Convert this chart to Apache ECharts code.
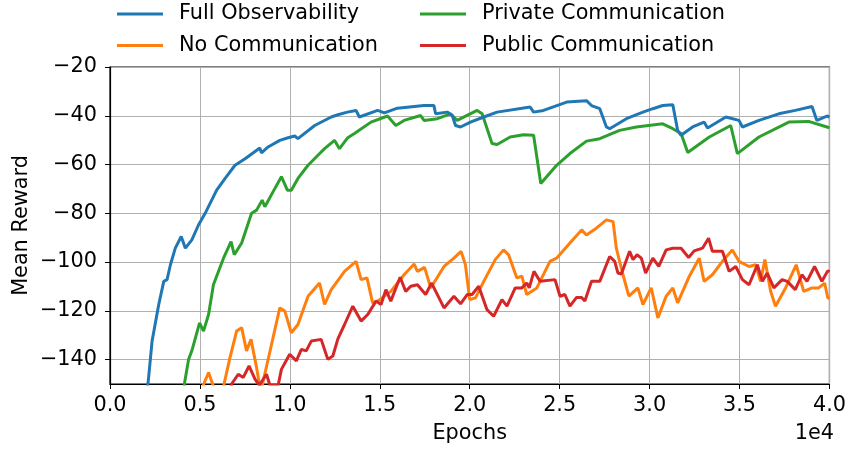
<!DOCTYPE html>
<html><head><meta charset="utf-8">
<script src="https://cdn.jsdelivr.net/npm/echarts@6/dist/echarts.min.js"></script>
<style>html,body{margin:0;padding:0;background:#fff}#c{width:849px;height:449px}</style>
</head><body><div id="c"></div>
<script>
const seriesNames = ["Full Observability","No Communication","Private Communication","Public Communication"];
const seriesColors = ["#1f77b4","#ff7f0e","#2ca02c","#d62728"];
const xTicks = [0,5000,10000,15000,20000,25000,30000,35000,40000];
const yTicks = [-140,-120,-100,-80,-60,-40,-20];

const fullX = [2050,2120,2340,2710,2990,3170,3360,3630,3960,4190,4550,4920,5290,5930,6400,6950,7510,8330,8420,8790,9440,9900,10270,10450,11380,12300,12670,13200,13680,13860,14880,15250,15980,17460,18010,18100,18750,19030,19210,19490,20040,20780,21520,23360,23550,24100,25390,26490,26770,27230,27600,27780,28710,29630,30180,30730,31290,31560,31750,32390,33030,33220,34240,34970,35160,36080,37180,38100,39030,39300,39860,40000];
const fullY = [-153,-149.4,-132.4,-117.4,-107.9,-107.2,-101.1,-94.3,-89.5,-94.3,-90.9,-84.8,-80,-70.5,-65.7,-60.3,-57.6,-53.2,-55.2,-52.8,-50.1,-49,-48.3,-49.4,-44,-40.5,-39.6,-38.5,-37.8,-40.5,-37.8,-38.8,-36.9,-35.8,-35.8,-39.2,-38.5,-39.9,-44,-44.6,-42.6,-40.5,-38.5,-36.4,-38.5,-37.8,-34.4,-33.8,-35.8,-37.1,-44.6,-45.3,-41.2,-38.5,-37.1,-35.8,-35.5,-46,-48,-44.6,-42.6,-45,-40.5,-41.9,-44.6,-41.9,-39.2,-37.8,-36.2,-41.9,-40.1,-40.5];

const noX = [5100,5480,5800,6300,6360,6670,7040,7320,7590,7840,8150,8330,8450,8980,9440,9720,10080,10450,11010,11650,11930,12300,13040,13680,13960,14290,14600,14880,15610,16350,16910,17090,17490,17830,18570,19120,19520,19760,20000,20320,20780,21420,21880,22160,22620,22900,23170,23730,24460,24830,25570,26220,26490,27040,27600,27970,28150,28520,28850,29350,29630,30090,30460,30920,31290,31560,32210,32760,33030,33490,34050,34600,34970,35530,35900,36170,36410,36730,37000,37560,38150,38570,39030,39400,39730,39910,40000];
const noY = [-152,-145.3,-152,-152,-149.4,-139.2,-128.3,-126.9,-136.4,-131.7,-143.3,-151,-151,-133.8,-118.8,-120.1,-129,-125.6,-114,-108.6,-117.4,-111.3,-103.8,-99.7,-107.2,-106.5,-116.7,-116,-112,-105.2,-100.8,-103.8,-102.2,-110.6,-101.8,-98.4,-95.6,-101.1,-115.4,-114.7,-107.9,-99,-95,-97,-106.5,-105.8,-113.3,-110.6,-99.7,-98.4,-92.2,-86.8,-88.9,-86.1,-82.7,-83.4,-94.3,-105.2,-114,-110.6,-117.4,-110.6,-122.9,-114,-110.6,-116.7,-105.8,-98.4,-107.9,-105.2,-99.7,-95,-99.7,-101.8,-101.1,-107.9,-99,-112,-118.1,-110.6,-101.1,-112,-110.6,-110.6,-108.6,-114.7,-115];

const privX = [4100,4150,4370,4550,4980,5200,5480,5750,6310,6730,6910,7320,7870,8150,8460,8610,9070,9530,9860,10080,10450,11010,11560,11930,12480,12760,13220,13590,14510,15430,15890,16350,17270,17460,18200,18930,19300,20410,20690,21240,21520,22250,22990,23550,23950,24830,25570,26490,27230,28330,29260,30730,31290,31750,32120,33320,34510,34880,36080,37740,38840,39860,40000];
const privY = [-153,-149.4,-139.9,-136.4,-124.9,-128.3,-121.5,-109.3,-98.4,-91.6,-97,-92.2,-80,-78.7,-74.6,-77.3,-71.1,-65,-70.5,-70.5,-65.7,-60.3,-56.2,-53.5,-50.1,-53.5,-49,-47.3,-42.6,-40.1,-44,-41.9,-39.9,-41.9,-41.2,-39.2,-41.9,-37.8,-39.2,-51.4,-51.8,-48.7,-47.8,-48,-67.8,-60.3,-55.5,-50.4,-49.4,-46,-44.6,-43.3,-45.3,-47.3,-55.1,-48.7,-44,-55.5,-48.7,-42.6,-42.3,-44.6,-45];

const pubX = [6700,6760,7130,7410,7730,8060,8300,8700,8890,9350,9530,9990,10360,10640,10910,11190,11740,12110,12390,12670,13040,13500,13960,14330,14790,15070,15340,15610,16130,16440,16720,17090,17550,17880,18570,19120,19490,19860,20130,20500,20960,21330,21790,22070,22530,22900,23170,23310,23570,23910,24740,25020,25290,25570,25940,26220,26400,26770,27230,27780,28060,28240,28430,28890,29080,29300,29540,29780,30180,30510,30920,31290,31750,32170,32480,32940,33280,33490,34050,34420,34790,35160,35530,35990,36270,36540,36910,37370,37650,38100,38470,38750,39170,39580,39910,40000];
const pubY = [-152,-150,-146,-147.3,-142.6,-148,-150.5,-146,-150.5,-150.5,-144,-137.8,-140.5,-135.8,-136.4,-132.4,-131.7,-139.9,-138.5,-131.5,-125.6,-118.1,-124.2,-121.5,-116,-117.4,-111.3,-116,-106.2,-112,-109.9,-109.3,-113.3,-108.6,-118.8,-114,-117.1,-113.3,-113.3,-109.9,-119.5,-122.2,-115.4,-118.1,-110.6,-110.6,-108.6,-110.6,-103.8,-107.9,-107.2,-114,-113.3,-118.1,-114.5,-114.5,-116,-107.9,-107.9,-97.7,-99.7,-104.5,-104.9,-95.6,-99,-97,-98.4,-104.5,-98.4,-101.8,-95,-94.3,-94.3,-98.1,-95.4,-94.3,-90.2,-95.6,-95.6,-103.8,-101.8,-107.2,-109.3,-101.1,-107.9,-104.5,-110.6,-107.2,-107.9,-111.3,-105.2,-107.9,-101.8,-107.9,-103.5,-104];

function pairs(xs, ys){ return xs.map((x,i)=>[x, ys[i]]); }
const allX = [fullX, noX, privX, pubX];
const allY = [fullY, noY, privY, pubY];

const font = 'DejaVu Sans';
const fs = 20.8;
const chart = echarts.init(document.getElementById('c'), null, {renderer:'canvas'});
const lbl = v => String(v).replace('-', '\u2212');
const legText = {fontFamily: font, fontSize: fs, lineHeight: 20, color: '#000', padding: [0,0,0,11]};

chart.setOption({
  animation: false,
  backgroundColor: '#fff',
  textStyle: {fontFamily: font},
  legend: [
    {left: 117, top: 3.5, padding: 0, orient: 'vertical', itemGap: 10.6, itemWidth: 46, itemHeight: 3,
     icon: 'rect', data: [seriesNames[0], seriesNames[1]], textStyle: legText},
    {left: 420, top: 3.5, padding: 0, orient: 'vertical', itemGap: 10.6, itemWidth: 46, itemHeight: 3,
     icon: 'rect', data: [seriesNames[2], seriesNames[3]], textStyle: legText}
  ],
  grid: {left: 110, right: 14, top: 67, bottom: 63, show: true, borderColor: '#000', borderWidth: 1.2, backgroundColor: 'transparent'},
  xAxis: {
    type: 'value', min: 0, max: 40000, interval: 5000,
    name: 'Epochs', nameLocation: 'middle', nameGap: 39, nameMoveOverlap: false,
    nameTextStyle: {fontFamily: font, fontSize: fs, color: '#000'},
    axisLine: {show: true, lineStyle: {color: '#000', width: 1.2}},
    axisTick: {show: true, inside: false, length: 5, lineStyle: {color: '#000'}},
    axisLabel: {fontFamily: font, fontSize: fs, color: '#000', margin: 11, formatter: v => (v/10000).toFixed(1)},
    splitLine: {show: true, lineStyle: {color: '#b0b0b0', width: 1}}
  },
  yAxis: {
    type: 'value', min: -150, max: -20,
    name: 'Mean Reward', nameLocation: 'middle', nameGap: 78, nameMoveOverlap: false,
    nameTextStyle: {fontFamily: font, fontSize: fs, color: '#000'},
    axisLine: {show: true, lineStyle: {color: '#000', width: 1.2}},
    axisTick: {show: true, length: 5, lineStyle: {color: '#000'}, customValues: yTicks},
    axisLabel: {fontFamily: font, fontSize: fs, color: '#000', margin: 13, customValues: yTicks, formatter: lbl},
    splitLine: {show: true, lineStyle: {color: '#b0b0b0', width: 1}}
  },
  graphic: [{type: 'text', right: 15, top: 423, style: {text: '1e4', font: fs + 'px "DejaVu Sans"', fill: '#000'}}],
  series: seriesNames.map((n, i) => ({
    name: n, type: 'line', data: pairs(allX[i], allY[i]), showSymbol: false, symbol: 'none',
    clip: true, color: seriesColors[i],
    lineStyle: {width: 3, color: seriesColors[i]}, z: i === 0 ? 5 : 3
  }))
});
</script></body></html>
